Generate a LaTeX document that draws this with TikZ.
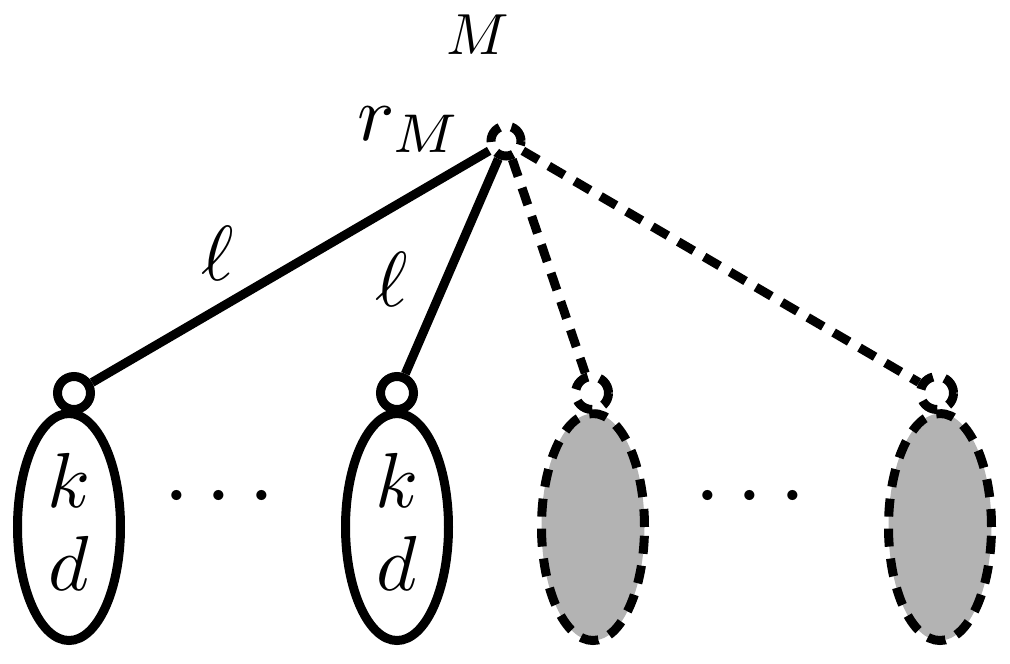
\documentclass[tikz,border=0pt]{standalone}
\usetikzlibrary{shapes.geometric}
\definecolor{leafgray}{RGB}{179,179,179}
\newcommand{\lgmath}[1]{\scalebox{7.8}{$#1$}}
\newcommand{\dotmath}[1]{\scalebox{9.6}{$#1$}}
\newcommand{\smmath}[1]{\scalebox{5.8}{$#1$}}
\begin{document}
\begin{tikzpicture}[x=1pt,y=-1pt,
  lw/.style={line width=9pt},
  dsh/.style={dash pattern=on 18pt off 12pt},
  smallc/.style={circle,draw,lw,minimum size=33pt,inner sep=0pt,fill=white},
  leaf/.style={ellipse,draw,lw,minimum width=103pt,minimum height=227pt,inner sep=0pt},
  lab/.style={inner sep=0pt}]
\useasboundingbox (0,0) rectangle (1010,664);
% leaves
\node[leaf] (e1) at (69,527) {};
\node[leaf] (e2) at (397,527) {};
\node[leaf,fill=leafgray,dsh] (e3) at (593,527) {};
\node[leaf,fill=leafgray,dsh] (e4) at (940,527) {};
% small circles
\node[smallc] (c1) at (74,393) {};
\node[smallc] (c2) at (397,393) {};
\node[smallc,dsh] (c3) at (592,393) {};
\node[smallc,dsh] (c4) at (937,393) {};
\node[smallc,dsh,minimum size=30pt] (r) at (506,141) {};
% edges
\draw[lw] (r) -- (c1);
\draw[lw] (r) -- (c2);
\draw[lw,dsh] (r) -- (c3);
\draw[lw,dsh] (r) -- (c4);
% labels
\node[lab,anchor=base] (k1) at (69,507) {\lgmath{k}};
\node[lab,anchor=base] (d1) at (69,590) {\lgmath{d}};
\node[lab,anchor=base] (k2) at (397,507) {\lgmath{k}};
\node[lab,anchor=base] (d2) at (397,590) {\lgmath{d}};
\node[lab] (dots1) at (219,498) {\dotmath{\cdots}};
\node[lab] (dots2) at (750,498) {\dotmath{\cdots}};
\node[lab] (l1) at (218,253) {\lgmath{\ell}};
\node[lab] (l2) at (392,279) {\lgmath{\ell}};
\node[lab] (M) at (478,35) {\smmath{M}};
\node[lab] (rM) at (410,130) {\lgmath{r_M}};
\end{tikzpicture}
\end{document}
